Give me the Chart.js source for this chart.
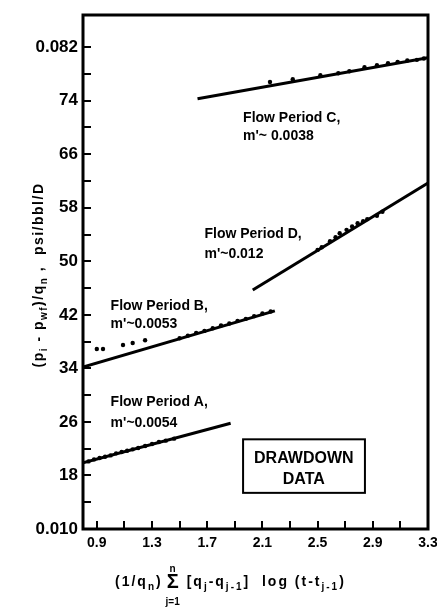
<!DOCTYPE html>
<html><head><meta charset="utf-8">
<script src="https://cdn.jsdelivr.net/npm/chart.js@4"></script>
<style>html,body{margin:0;padding:0;background:#fff;}</style>
</head><body>
<canvas id="c" width="437" height="610" style="display:block;width:437px;height:610px"></canvas>
<script>
// ---- axis ticks ----
const xTickValues = [0.9,1.1,1.3,1.5,1.7,1.9,2.1,2.3,2.5,2.7,2.9,3.1,3.3];
const xTickLabels = ['0.9','','1.3','','1.7','','2.1','','2.5','','2.9','','3.3'];
const yTickValues = [10,14,18,22,26,30,34,38,42,46,50,54,58,62,66,70,74,78,82];
const yTickLabels = ['0.010','','18','','26','','34','','42','','50','','58','','66','','74','','0.082'];

// ---- measured points ----
const periodA_x = [0.84,0.88,0.92,0.96,1.00,1.04,1.08,1.12,1.16,1.20,1.25,1.30,1.35,1.40,1.46];
const periodA_y = [20.1,20.4,20.6,20.8,21.0,21.3,21.5,21.7,21.9,22.1,22.4,22.7,23.0,23.2,23.5];
const periodB_x = [0.90,0.945,1.09,1.16,1.25,1.50,1.56,1.62,1.68,1.74,1.80,1.86,1.92,1.98,2.04,2.10,2.16];
const periodB_y = [36.9,36.9,37.5,37.8,38.2,38.5,38.9,39.3,39.6,40.0,40.4,40.7,41.1,41.4,41.8,42.2,42.5];
const periodC_x = [2.155,2.32,2.52,2.65,2.73,2.84,2.93,3.01,3.08,3.15,3.22,3.27];
const periodC_y = [76.8,77.2,77.8,78.1,78.4,79.0,79.3,79.6,79.8,80.0,80.1,80.3];
const periodD_x = [2.50,2.53,2.59,2.63,2.66,2.71,2.75,2.79,2.83,2.86,2.93,2.97];
const periodD_y = [51.7,52.1,53.0,53.6,54.2,54.7,55.2,55.7,56.0,56.3,56.8,57.4];

// ---- fitted straight lines (end points) ----
const lineA_x = [0.8, 1.87];  const lineA_y = [19.9, 25.8];
const lineB_x = [0.8, 2.19];  const lineB_y = [34.2, 42.6];
const lineC_x = [1.63, 3.3];  const lineC_y = [74.3, 80.4];
const lineD_x = [2.03, 3.3];  const lineD_y = [45.7, 61.7];

// ---- annotations (data coordinates, text baseline) ----
const noteTexts = ['Flow Period C,', "m'~ 0.0038", 'Flow Period D,', "m'~0.012", 'Flow Period B,', "m'~0.0053", 'Flow Period A,', "m'~0.0054"];
const noteX = [1.96,1.96,1.68,1.68,1.0,1.0,1.0,1.0];
const noteY = [70.8,68.1,53.5,50.5,42.7,40.0,28.4,25.2];
const boxX = [1.96, 2.843];
const boxY = [15.4, 23.4];
const boxLines = ['DRAWDOWN','DATA'];
const boxLineY = [19.9, 16.7];
const boxCenterX = 2.40;

const yTitle = [{t:'(p'},{t:'i',sub:1},{t:' - p'},{t:'wf',sub:1},{t:')/q'},{t:'n',sub:1},{t:' ,  psi/bbl/D'}];
const xTitleA = [{t:'(1/q'},{t:'n',sub:1},{t:')'}];
const xTitleB = [{t:'[q'},{t:'j',sub:1},{t:'-q'},{t:'j-1',sub:1},{t:']  log (t-t'},{t:'j-1',sub:1},{t:')'}];

const toXY = (xs, ys) => xs.map((x,i)=>({x:x, y:ys[i]}));
const FONT = 'Liberation Sans, Arial, sans-serif';

function richWidth(ctx, segs, size){
  let w=0;
  for(const s of segs){ ctx.font='bold '+(s.sub?Math.round(size*0.72):size)+'px '+FONT; w+=ctx.measureText(s.t).width; }
  return w;
}
function drawRich(ctx, segs, x, y, size){
  let cx=x;
  for(const s of segs){
    ctx.font='bold '+(s.sub?Math.round(size*0.72):size)+'px '+FONT;
    ctx.fillText(s.t, cx, y + (s.sub? size*0.32:0));
    cx+=ctx.measureText(s.t).width;
  }
  return cx;
}

const decor = {
  id:'decor',
  afterDatasetsDraw(chart){
    const ctx=chart.ctx, a=chart.chartArea, xs=chart.scales.x, ys=chart.scales.y;
    ctx.save();
    ctx.strokeStyle='#000'; ctx.lineWidth=3;
    ctx.strokeRect(a.left, a.top, a.right-a.left, a.bottom-a.top);
    ctx.fillStyle='#000'; ctx.textBaseline='alphabetic'; ctx.textAlign='left';
    ctx.font='bold 14px '+FONT;
    for(let i=0;i<noteTexts.length;i++){
      ctx.fillText(noteTexts[i], xs.getPixelForValue(noteX[i]), ys.getPixelForValue(noteY[i]));
    }
    // box
    const bx0=xs.getPixelForValue(boxX[0]), bx1=xs.getPixelForValue(boxX[1]);
    const by0=ys.getPixelForValue(boxY[1]), by1=ys.getPixelForValue(boxY[0]);
    ctx.lineWidth=2; ctx.strokeRect(bx0,by0,bx1-bx0,by1-by0);
    ctx.font='bold 16px '+FONT; ctx.textAlign='center';
    for(let i=0;i<boxLines.length;i++) ctx.fillText(boxLines[i], xs.getPixelForValue(boxCenterX), ys.getPixelForValue(boxLineY[i]));
    ctx.textAlign='left';
    // y title
    ctx.save();
    ctx.translate(43, 275); ctx.rotate(-Math.PI/2);
    ctx.letterSpacing='1.5px';
    const w=richWidth(ctx,yTitle,14);
    drawRich(ctx,yTitle,-w/2,0,14);
    ctx.restore();
    // x title
    ctx.letterSpacing='2px';
    let cx=drawRich(ctx,xTitleA,115,586,14);
    cx+=4;
    ctx.letterSpacing='0px';
    ctx.font='bold 20px '+FONT; ctx.textAlign='center';
    const sw=ctx.measureText('Σ').width;
    ctx.fillText('Σ', cx+sw/2, 588);
    ctx.font='bold 10px '+FONT;
    ctx.fillText('n', cx+sw/2, 572);
    ctx.fillText('j=1', cx+sw/2, 605);
    ctx.textAlign='left';
    cx+=sw+8;
    ctx.letterSpacing='2px';
    drawRich(ctx,xTitleB,cx,586,14);
    ctx.restore();
  }
};

function noPad(s){ s.paddingLeft=0; s.paddingRight=0; s.paddingTop=0; s.paddingBottom=0; }

const lineStyle = {borderColor:'#000', borderWidth:3, pointRadius:0, fill:false, showLine:true, tension:0};
const ptStyle = {backgroundColor:'#000', borderColor:'#000', pointRadius:2.2, borderWidth:0, showLine:false};

new Chart(document.getElementById('c'), {
  type:'scatter',
  data:{datasets:[
    Object.assign({data:toXY(lineA_x,lineA_y)}, lineStyle),
    Object.assign({data:toXY(lineB_x,lineB_y)}, lineStyle),
    Object.assign({data:toXY(lineC_x,lineC_y)}, lineStyle),
    Object.assign({data:toXY(lineD_x,lineD_y)}, lineStyle),
    Object.assign({data:toXY(periodA_x,periodA_y)}, ptStyle),
    Object.assign({data:toXY(periodB_x,periodB_y)}, ptStyle),
    Object.assign({data:toXY(periodC_x,periodC_y)}, ptStyle),
    Object.assign({data:toXY(periodD_x,periodD_y)}, ptStyle)
  ]},
  options:{
    responsive:false, animation:false, devicePixelRatio:1,
    layout:{padding:{top:15,right:9,left:0,bottom:0}, autoPadding:false},
    plugins:{legend:{display:false}, tooltip:{enabled:false}},
    scales:{
      x:{type:'linear', min:0.8, max:3.3,
        afterBuildTicks(s){ s.ticks = xTickValues.map(v=>({value:v})); },
        afterFit(s){ s.height = 81; noPad(s); },
        grid:{drawOnChartArea:false, drawTicks:true, tickLength:-8, color:'#000', lineWidth:2},
        border:{display:false},
        ticks:{autoSkip:false, maxRotation:0, padding:14, color:'#000',
          font:{family:FONT, weight:'bold', size:14},
          callback(v,i){ return xTickLabels[i]; }}
      },
      y:{type:'linear', min:10, max:86.8,
        afterBuildTicks(s){ s.ticks = yTickValues.map(v=>({value:v})); },
        afterFit(s){ s.width = 83; noPad(s); },
        grid:{drawOnChartArea:false, drawTicks:true, tickLength:-8, color:'#000', lineWidth:2},
        border:{display:false},
        ticks:{autoSkip:false, padding:13, color:'#000',
          font:{family:FONT, weight:'bold', size:17},
          callback(v,i){ return yTickLabels[i]; }}
      }
    }
  },
  plugins:[decor]
});
</script>
</body></html>
